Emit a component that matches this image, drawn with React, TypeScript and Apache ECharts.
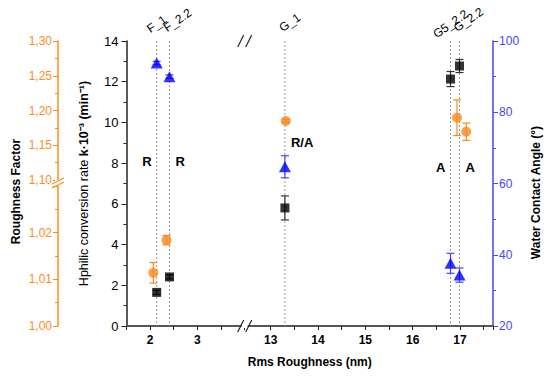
import React, { useEffect, useRef } from 'react';
import * as echarts from 'echarts';

// ---- data ----
const samples = ['F_1', 'F_2.2', 'G_1', 'G5_2.2', 'G_2.2'];
const rmsRoughness = [2.14, 2.41, 13.3, 16.8, 16.99];
const conversionRate = [1.65, 2.41, 5.8, 12.13, 12.77];
const conversionErr = [0.1, 0.1, 0.59, 0.37, 0.32];
const contactAngle = [93.8, 90.0, 64.7, 37.6, 34.3];
const contactAngleErr = [0.5, 0.5, 3.1, 2.8, 2.0];
const roughnessFactor = [1.0114, 1.0184, 1.1849, 1.1896, 1.1695];
const roughnessFactorErr = [0.0022, 0.001, 0.002, 0.0257, 0.0125];
const regimeLabels = ['R', 'R', 'R/A', 'A', 'A'];
const regimeLabelY = [8.1, 8.1, 9.0, 7.8, 7.8];
const regimeSide = ['left', 'right', 'right', 'left', 'right'];
const topLabelAlign = ['center', 'left', 'left', 'center', 'left'];
const xTickLabels = [2, 3, 13, 14, 15, 16, 17];
const xBreak = { start: 4, end: 12.45 };
const rfLowerMax = 1.03;

const FONT = 'Liberation Sans, Arial, sans-serif';
const BLUE_AXIS = '#4545ff';
const BLUE = '#0000ff';
const ORANGE_AXIS = '#ff8c1a';
const ORANGE = '#f88a1e';

const xBase = {
  type: 'value',
  min: 1.5,
  max: 17.7,
  interval: 0.5,
  breaks: [{ start: xBreak.start, end: xBreak.end, gap: 0 }],
  breakArea: { show: false },
};

function errorBars(xs: number[], ys: number[], errs: number[], xi: number, yi: number, color: string) {
  return {
    type: 'custom',
    xAxisIndex: xi,
    yAxisIndex: yi,
    silent: true,
    z: 2,
    clip: false,
    data: xs.map((x, i) => [x, ys[i] - errs[i], ys[i] + errs[i]]),
    encode: { x: 0, y: [1, 2] },
    renderItem: (params: any, api: any) => {
      const lo = api.coord([api.value(0), api.value(1)]);
      const hi = api.coord([api.value(0), api.value(2)]);
      const w = 4;
      const st = { stroke: color, lineWidth: 1.2 };
      return {
        type: 'group',
        children: [
          { type: 'line', shape: { x1: lo[0], y1: lo[1], x2: hi[0], y2: hi[1] }, style: st },
          { type: 'line', shape: { x1: lo[0] - w, y1: lo[1], x2: lo[0] + w, y2: lo[1] }, style: st },
          { type: 'line', shape: { x1: hi[0] - w, y1: hi[1], x2: hi[0] + w, y2: hi[1] }, style: st },
        ],
      };
    },
  };
}

export default function App() {
  const ref = useRef<HTMLDivElement>(null);
  useEffect(() => {
    document.body.style.margin = '0';
    const chart = echarts.init(ref.current!, null, { renderer: 'svg' });

    const lowerIdx = roughnessFactor.map((v, i) => i).filter((i) => roughnessFactor[i] < rfLowerMax);
    const upperIdx = roughnessFactor.map((v, i) => i).filter((i) => roughnessFactor[i] >= rfLowerMax);
    const pick = (arr: number[], idx: number[]) => idx.map((i) => arr[i]);

    const option: any = {
      animation: false,
      backgroundColor: '#fff',
      textStyle: { fontFamily: FONT },
      grid: [
        { left: 122, right: 49, top: 41, bottom: 50 },
        { left: 122, right: 49, top: 41, bottom: 196 },
        { left: 122, right: 49, top: 186, bottom: 50 },
      ],
      xAxis: [
        {
          ...xBase,
          gridIndex: 0,
          position: 'bottom',
          name: 'Rms Roughness (nm)',
          nameLocation: 'middle',
          nameGap: 30,
          nameTextStyle: { fontSize: 12, fontWeight: 'bold', color: '#000', fontFamily: FONT },
          axisLine: { lineStyle: { color: '#222', width: 1.5 } },
          axisTick: { length: 4, lineStyle: { color: '#222' } },
          axisLabel: {
            fontSize: 12,
            fontWeight: 'bold',
            color: '#000',
            fontFamily: FONT,
            margin: 8,
            formatter: (v: number) => (xTickLabels.some((t) => Math.abs(t - v) < 1e-6) ? String(Math.round(v)) : ''),
          },
          splitLine: { show: false },
        },
        {
          ...xBase,
          gridIndex: 0,
          position: 'top',
          axisLine: { lineStyle: { color: '#555', width: 1.5 } },
          axisTick: { show: false },
          axisLabel: { show: false },
          splitLine: { show: false },
        },
        { ...xBase, gridIndex: 1, show: false },
        { ...xBase, gridIndex: 2, show: false },
      ],
      yAxis: [
        {
          type: 'value',
          gridIndex: 0,
          position: 'left',
          min: 0,
          max: 14,
          interval: 2,
          name: '{a|Hphilic conversion rate }{b|k·10⁻³ (min⁻¹)}',
          nameLocation: 'middle',
          nameGap: 36,
          nameRotate: 90,
          nameTextStyle: {
            rich: {
              a: { fontSize: 12.5, color: '#000', fontFamily: FONT },
              b: { fontSize: 12.5, color: '#000', fontWeight: 'bold', fontFamily: FONT },
            },
          },
          axisLine: { show: true, lineStyle: { color: '#222', width: 1.5 } },
          axisTick: { show: true, length: 5, lineStyle: { color: '#222' } },
          minorTick: { show: true, splitNumber: 2, length: 3, lineStyle: { color: '#222' } },
          axisLabel: { fontSize: 13, color: '#000', fontFamily: FONT, margin: 8 },
          splitLine: { show: false },
        },
        {
          type: 'value',
          gridIndex: 0,
          position: 'right',
          min: 20,
          max: 100,
          interval: 20,
          name: 'Water Contact Angle (°)',
          nameLocation: 'middle',
          nameGap: 30,
          nameRotate: 90,
          nameTextStyle: { fontSize: 12, fontWeight: 'bold', color: '#000', fontFamily: FONT, padding: [0, 18, 0, 0] },
          axisLine: { show: true, lineStyle: { color: BLUE_AXIS, width: 1.5 } },
          axisTick: { show: true, length: 5, lineStyle: { color: BLUE_AXIS } },
          minorTick: { show: true, splitNumber: 2, length: 3, lineStyle: { color: BLUE_AXIS } },
          axisLabel: { fontSize: 12, color: BLUE_AXIS, fontFamily: FONT, margin: 6 },
          splitLine: { show: false },
        },
        {
          type: 'value',
          gridIndex: 1,
          position: 'left',
          offset: 64,
          min: 1.1,
          max: 1.3,
          interval: 0.05,
          axisLine: { show: true, lineStyle: { color: ORANGE_AXIS, width: 1.5 } },
          axisTick: { show: true, length: 5, lineStyle: { color: ORANGE_AXIS } },
          minorTick: { show: true, splitNumber: 2, length: 3, lineStyle: { color: ORANGE_AXIS } },
          axisLabel: {
            fontSize: 12,
            color: ORANGE_AXIS,
            fontFamily: FONT,
            margin: 6,
            formatter: (v: number) => v.toFixed(2).replace('.', ','),
          },
          splitLine: { show: false },
        },
        {
          type: 'value',
          gridIndex: 2,
          position: 'left',
          offset: 64,
          min: 1.0,
          max: rfLowerMax,
          interval: 0.01,
          axisLine: { show: true, lineStyle: { color: ORANGE_AXIS, width: 1.5 } },
          axisTick: { show: true, length: 5, lineStyle: { color: ORANGE_AXIS } },
          minorTick: { show: true, splitNumber: 2, length: 3, lineStyle: { color: ORANGE_AXIS } },
          axisLabel: {
            fontSize: 12,
            color: ORANGE_AXIS,
            fontFamily: FONT,
            margin: 6,
            formatter: (v: number) => (v > rfLowerMax - 0.005 ? '' : v.toFixed(2).replace('.', ',')),
          },
          splitLine: { show: false },
        },
        {
          type: 'value',
          gridIndex: 0,
          position: 'left',
          offset: 64,
          min: 0,
          max: 1,
          name: 'Roughness Factor',
          nameLocation: 'middle',
          nameGap: 40,
          nameRotate: 90,
          nameTextStyle: { fontSize: 12, fontWeight: 'bold', color: '#000', fontFamily: FONT, padding: [0, 16, 0, 0] },
          axisLine: { show: false },
          axisTick: { show: false },
          axisLabel: { show: false },
          splitLine: { show: false },
        },
      ],
      series: [
        // dotted guide lines, sample labels and regime labels
        {
          type: 'custom',
          xAxisIndex: 0,
          yAxisIndex: 0,
          silent: true,
          clip: false,
          z: 1,
          data: rmsRoughness.map((x, i) => [x, regimeLabelY[i]]),
          encode: { x: 0, y: 1 },
          renderItem: (params: any, api: any) => {
            const i = params.dataIndex;
            const x = api.value(0);
            const top = api.coord([x, 14]);
            const bot = api.coord([x, 0]);
            const reg = api.coord([x, api.value(1)]);
            const centered = topLabelAlign[i] === 'center';
            const left = regimeSide[i] === 'left';
            return {
              type: 'group',
              children: [
                {
                  type: 'line',
                  shape: { x1: top[0], y1: top[1], x2: bot[0], y2: bot[1] },
                  style: { stroke: '#999', lineWidth: 1, lineDash: [2, 2] },
                },
                {
                  type: 'group',
                  x: top[0] + (centered ? 0 : -1),
                  y: top[1] - (centered ? 17 : 7),
                  rotation: (35 * Math.PI) / 180,
                  children: [
                    {
                      type: 'text',
                      style: {
                        text: samples[i],
                        fill: '#000',
                        font: `12px ${FONT}`,
                        textAlign: centered ? 'center' : 'left',
                        textVerticalAlign: centered ? 'middle' : 'bottom',
                      },
                    },
                  ],
                },
                {
                  type: 'text',
                  x: reg[0] + (left ? -5 : 6),
                  y: reg[1],
                  style: {
                    text: regimeLabels[i],
                    fill: '#000',
                    font: `bold 13px ${FONT}`,
                    textAlign: left ? 'right' : 'left',
                    textVerticalAlign: 'middle',
                  },
                },
              ],
            };
          },
        },
        // axis break marks
        {
          type: 'custom',
          xAxisIndex: 0,
          yAxisIndex: 0,
          silent: true,
          clip: false,
          z: 5,
          data: [[xBreak.start, 0], [xBreak.start, 14]],
          encode: { x: 0, y: 1 },
          renderItem: (params: any, api: any) => {
            const p = api.coord([api.value(0), api.value(1)]);
            const st = { stroke: '#222', lineWidth: 1.2 };
            return {
              type: 'group',
              children: [
                { type: 'rect', shape: { x: p[0] - 3, y: p[1] - 2, width: 6, height: 4 }, style: { fill: '#fff' } },
                { type: 'line', shape: { x1: p[0] - 7, y1: p[1] + 6, x2: p[0] - 1, y2: p[1] - 6 }, style: st },
                { type: 'line', shape: { x1: p[0] + 1, y1: p[1] + 6, x2: p[0] + 7, y2: p[1] - 6 }, style: st },
              ],
            };
          },
        },
        errorBars(rmsRoughness, conversionRate, conversionErr, 0, 0, '#333'),
        errorBars(rmsRoughness, contactAngle, contactAngleErr, 0, 1, BLUE_AXIS),
        errorBars(pick(rmsRoughness, upperIdx), pick(roughnessFactor, upperIdx), pick(roughnessFactorErr, upperIdx), 2, 2, ORANGE),
        errorBars(pick(rmsRoughness, lowerIdx), pick(roughnessFactor, lowerIdx), pick(roughnessFactorErr, lowerIdx), 3, 3, ORANGE),
        {
          type: 'scatter',
          xAxisIndex: 0,
          yAxisIndex: 0,
          z: 3,
          symbol: 'rect',
          symbolSize: 9,
          itemStyle: { color: '#000' },
          data: rmsRoughness.map((x, i) => [x, conversionRate[i]]),
        },
        {
          type: 'scatter',
          xAxisIndex: 0,
          yAxisIndex: 1,
          z: 3,
          symbol: 'triangle',
          symbolSize: [12, 11],
          itemStyle: { color: BLUE },
          data: rmsRoughness.map((x, i) => [x, contactAngle[i]]),
        },
        {
          type: 'scatter',
          xAxisIndex: 2,
          yAxisIndex: 2,
          z: 3,
          symbol: 'circle',
          symbolSize: 10,
          itemStyle: { color: ORANGE },
          data: upperIdx.map((i) => [rmsRoughness[i], roughnessFactor[i]]),
        },
        {
          type: 'scatter',
          xAxisIndex: 3,
          yAxisIndex: 3,
          z: 3,
          symbol: 'circle',
          symbolSize: 10,
          itemStyle: { color: ORANGE },
          data: lowerIdx.map((i) => [rmsRoughness[i], roughnessFactor[i]]),
        },
      ],
      graphic: [
        // break mark on the roughness factor axis
        { type: 'rect', shape: { x: 55, y: 180, width: 7, height: 6 }, style: { fill: '#fff' }, z: 10 },
        { type: 'line', shape: { x1: 52, y1: 184, x2: 64, y2: 178 }, style: { stroke: ORANGE_AXIS, lineWidth: 1.2 }, z: 11 },
        { type: 'line', shape: { x1: 52, y1: 188, x2: 64, y2: 182 }, style: { stroke: ORANGE_AXIS, lineWidth: 1.2 }, z: 11 },
      ],
    };

    chart.setOption(option);
    return () => chart.dispose();
  }, []);

  return <div ref={ref} style={{ width: 550, height: 376 }} />;
}
